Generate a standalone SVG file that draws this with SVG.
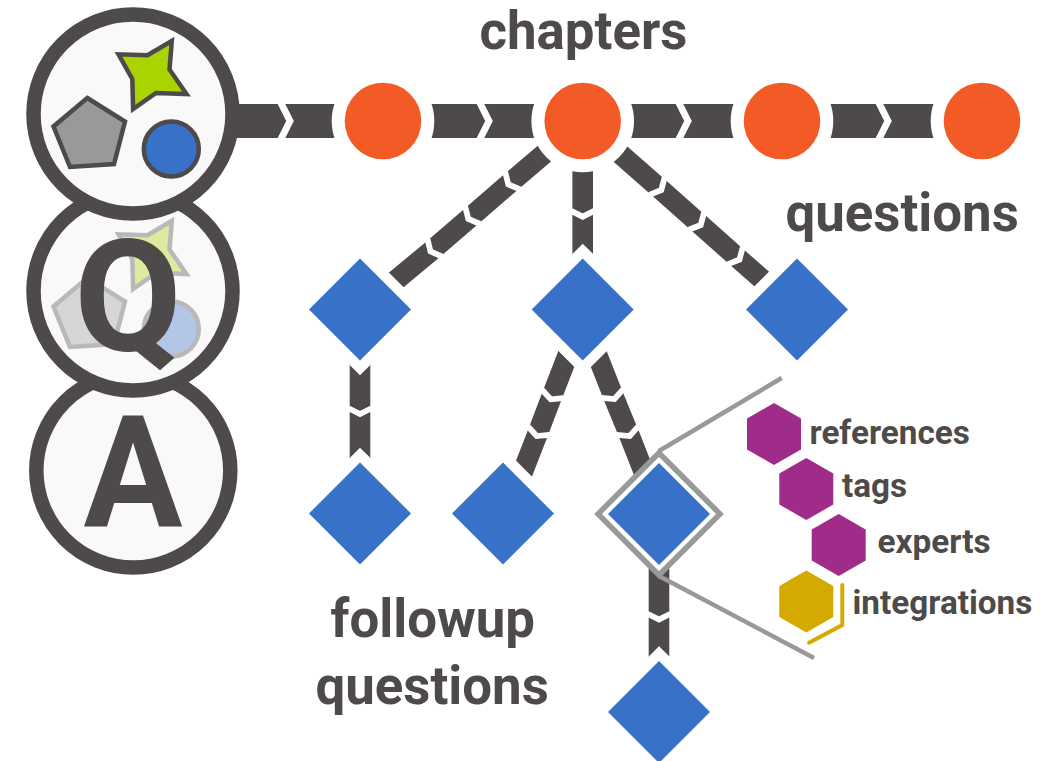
<svg xmlns="http://www.w3.org/2000/svg" width="1056" height="761" viewBox="0 0 1056 761">
<style>
.ring{fill:#f9f9f9;stroke:#4e4a49;stroke-width:14.5}
.bar{fill:none;stroke:#4e4a49;stroke-width:20.6;marker-mid:url(#chevT)}
.barH{fill:none;stroke:#4e4a49;stroke-width:34;marker-mid:url(#chevH)}
.ch{fill:#f35b26;stroke:#fff;stroke-width:26;paint-order:stroke}
.q{fill:#3771c8;stroke:#fff;stroke-width:21;paint-order:stroke;stroke-linejoin:miter}
.hex{fill:#a02c8a}
.s{stroke:#4e4a49;stroke-width:4.5;stroke-linejoin:miter}
.t{font-family:Roboto,"Liberation Sans",sans-serif;font-weight:700;fill:#4e4a49}
.big{font-size:52.8px}
.small{font-size:33.3px}
.gl{fill:none;stroke:#999;stroke-width:4.5}
</style>
<defs>
<marker id="chevH" markerUnits="strokeWidth" markerWidth="2" markerHeight="2" viewBox="-1 -1 2 2" refX="0" refY="0" orient="auto"><path d="M-.28,-.56L0,0L-.28,.56" fill="none" stroke="#fff" stroke-width=".2"/></marker>
<marker id="chevT" markerUnits="strokeWidth" markerWidth="2" markerHeight="2" viewBox="-1 -1 2 2" refX="0" refY="0" orient="auto"><path d="M-.28,-.56L0,0L-.28,.56" fill="none" stroke="#fff" stroke-width=".28"/></marker>
<g id="shapes">
<polygon class="s" fill="#aad400" points="171.8,41 169.5,69.5 186.5,94 156,93 133.1,109 132.3,79 118.5,54.3 147.5,55.3"/>
<polygon class="s" fill="#999" points="87.3,98 125,121.5 114,164 70,167 53.5,126.5"/>
<circle class="s" fill="#3771c8" cx="171.3" cy="149" r="27.5"/>
</g>
</defs>
<g id="connectors">
<polyline class="barH" points="232,121 290,121 340,121"/>
<polyline class="barH" points="425,121 489,121 540,121"/>
<polyline class="barH" points="625,121 688,121 740,121"/>
<polyline class="barH" points="825,121 888,121 940,121"/>
<polyline class="bar" points="582.7,121 508.3,184.4 468.3,219 430.5,251.5 360,310"/>
<polyline class="bar" points="582.7,150 582.7,216.7 582.7,280"/>
<polyline class="bar" points="582.7,121 661.3,190 700.7,225 739.5,259.5 797,310"/>
<polyline class="bar" points="360,330 360,414 360,490"/>
<polyline class="bar" points="585.6,309 550.7,399.3 536.7,436 506.7,513"/>
<polyline class="bar" points="579,309 614.5,399 629.7,436 660,513"/>
<polyline class="bar" points="659,540 659,619.5 659,690"/>
</g>
<g id="card-a"><circle class="ring" cx="133.3" cy="470.5" r="97"/><text class="t" x="133" y="526" font-size="156" text-anchor="middle" textLength="99" lengthAdjust="spacingAndGlyphs">A</text></g>
<g id="card-q"><circle class="ring" cx="133" cy="291" r="99.5"/><use href="#shapes" y="180" opacity=".36"/><text class="t" x="128" y="350" font-size="156" text-anchor="middle">Q</text></g>
<g id="card-top"><circle class="ring" cx="133" cy="114" r="99.5"/><use href="#shapes"/></g>
<g id="chapter-1"><circle class="ch" cx="383" cy="121" r="38.3"/></g>
<g id="chapter-2"><circle class="ch" cx="582.7" cy="121" r="38.3"/></g>
<g id="chapter-3"><circle class="ch" cx="782" cy="121" r="38.3"/></g>
<g id="chapter-4"><circle class="ch" cx="982" cy="121" r="38.3"/></g>
<g id="question-1"><polygon class="q" points="360,258.5 411,309.5 360,360.5 309,309.5"/></g>
<g id="question-2"><polygon class="q" points="582.7,258.5 633.7,309.5 582.7,360.5 531.7,309.5"/></g>
<g id="question-3"><polygon class="q" points="797,258.5 848,309.5 797,360.5 746,309.5"/></g>
<g id="followup-1"><polygon class="q" points="360,462.5 411,513.5 360,564.5 309,513.5"/></g>
<g id="followup-2"><polygon class="q" points="503,462.5 554,513.5 503,564.5 452,513.5"/></g>
<g id="followup-3"><polygon class="q" points="659,661 710,712 659,763 608,712"/></g>
<g id="selected">
<polygon points="659,453 720,514 659,575 598,514" fill="#fff" stroke="#999" stroke-width="5.5"/>
<polygon points="659,463 710,514 659,565 608,514" fill="#3771c8"/>
<line class="gl" x1="659" y1="451" x2="781.7" y2="378"/>
<line class="gl" x1="659" y1="576" x2="814" y2="658"/>
</g>
<g id="hex-references"><polygon class="hex" points="774,403 801,418.5 801,449.5 774,465 747,449.5 747,418.5"/><text class="t small" x="809.5" y="444">references</text></g>
<g id="hex-tags"><polygon class="hex" points="806.3,458 833.3,473.5 833.3,504.5 806.3,520 779.3,504.5 779.3,473.5"/><text class="t small" x="842" y="497">tags</text></g>
<g id="hex-experts"><polygon class="hex" points="838.7,514 865.7,529.5 865.7,560.5 838.7,576 811.7,560.5 811.7,529.5"/><text class="t small" x="877.5" y="553">experts</text></g>
<g id="hex-integrations"><polygon fill="#d4aa00" points="806.3,570.5 833.3,586 833.3,617 806.3,632.5 779.3,617 779.3,586"/><polyline points="842.3,585 842.3,625 809,642.7" fill="none" stroke="#d4aa00" stroke-width="4" stroke-linecap="round"/><text class="t small" x="852.5" y="614">integrations</text></g>
<text class="t big" x="479.5" y="49">chapters</text>
<text class="t big" x="785.5" y="231">questions</text>
<text class="t big" x="330.5" y="636.5">followup</text>
<text class="t big" x="315.5" y="703.5">questions</text>
</svg>
